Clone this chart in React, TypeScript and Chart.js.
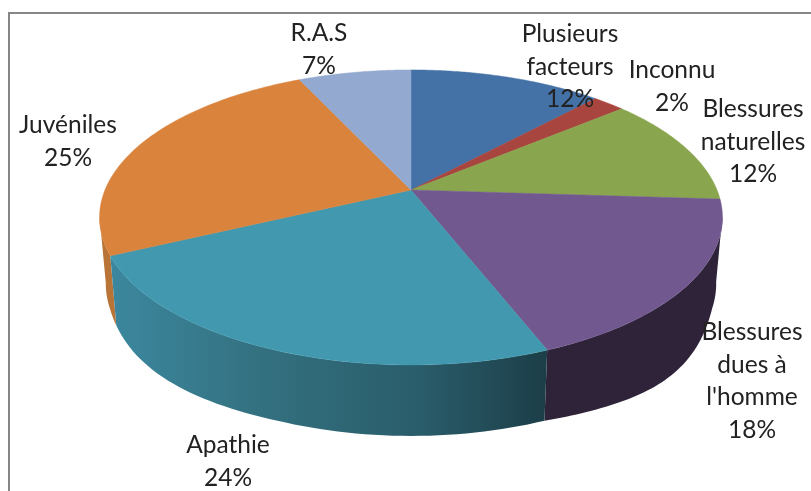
import React, { useEffect, useRef } from "react";
import { Chart, registerables } from "chart.js";

Chart.register(...registerables);

const categories = ["Plusieurs facteurs", "Inconnu", "Blessures naturelles", "Blessures dues à l'homme", "Apathie", "Juvéniles", "R.A.S"];
const shares = [12, 2, 12, 18, 24, 25, 7];
const topColours = ["#4471A6", "#A8453F", "#89A54E", "#71588F", "#4198AF", "#D9833C", "#93A9CF"];
const labelLines = [["Plusieurs", "facteurs"], ["Inconnu"], ["Blessures", "naturelles"], ["Blessures", "dues à", "l'homme"], ["Apathie"], ["Juvéniles"], ["R.A.S"]];

const labelAnchors = [
  { x: 570, y: 42 }, { x: 672, y: 78 }, { x: 753, y: 117 }, { x: 752, y: 340 },
  { x: 228, y: 453 }, { x: 68, y: 133 }, { x: 319, y: 41 },
];
const LINE = 32.5;
const CX = 411, CY = 190, RX = 306, RY = 142.4, K = 0.186;
const BOTTOM_SCALE = 0.98;

function project(theta: number) {
  const u = Math.sin(theta), v = -Math.cos(theta);
  const w = 1 - K * v;
  return { x: CX + (RX * u) / w, y: CY + (RY * v) / w, v, u };
}
function projectBottom(theta: number) {
  const p = project(theta);
  const t = (p.v - 0.34) / 0.59;
  const bulge = t > 0 && t < 1 ? Math.sin(Math.PI * t) * (p.u > 0 ? 12 : 5) : 0;
  return { x: CX + BOTTOM_SCALE * (p.x - CX), y: p.y + 65 + 6 * p.v + bulge };
}

const pie3d = {
  id: "pie3d",
  beforeDraw(chart: any) {
    const ctx = chart.ctx;
    ctx.save();
    ctx.fillStyle = "#ffffff";
    ctx.fillRect(0, 0, chart.width, chart.height);
    ctx.strokeStyle = "#868686";
    ctx.lineWidth = 2;
    ctx.beginPath();
    ctx.moveTo(9, chart.height);
    ctx.lineTo(9, 13);
    ctx.lineTo(chart.width, 13);
    ctx.stroke();
    ctx.restore();
  },
  beforeDatasetsDraw(chart: any) {
    const ctx = chart.ctx;
    const arcs = chart.getDatasetMeta(0).data;
    const wallMin = (100 * Math.PI) / 180, wallMax = (259.5 * Math.PI) / 180;
    const teal = ctx.createLinearGradient(113, 0, 547, 0);
    teal.addColorStop(0, "#3C879E");
    teal.addColorStop(0.35, "#33707F");
    teal.addColorStop(0.7, "#2A5D6B");
    teal.addColorStop(1, "#1C3E48");
    const walls: Record<number, any> = { 5: "#B97538", 3: "#2E2339", 4: teal };
    ctx.save();
    for (const i of [5, 3, 4]) {
      const a0 = Math.max(arcs[i].startAngle + Math.PI / 2, wallMin);
      const a1 = Math.min(arcs[i].endAngle + Math.PI / 2, wallMax);
      if (a1 <= a0) continue;
      ctx.beginPath();
      const n = 60;
      for (let s = 0; s <= n; s++) {
        const p = project(a0 + ((a1 - a0) * s) / n);
        s ? ctx.lineTo(p.x, p.y) : ctx.moveTo(p.x, p.y);
      }
      for (let s = n; s >= 0; s--) {
        const p = projectBottom(a0 + ((a1 - a0) * s) / n);
        ctx.lineTo(p.x, p.y);
      }
      ctx.closePath();
      ctx.fillStyle = walls[i];
      ctx.fill();
    }
    arcs.forEach((arc: any, i: number) => {
      const a0 = arc.startAngle + Math.PI / 2, a1 = arc.endAngle + Math.PI / 2;
      ctx.beginPath();
      ctx.moveTo(CX, CY);
      const n = 80;
      for (let s = 0; s <= n; s++) {
        const p = project(a0 + ((a1 - a0) * s) / n);
        ctx.lineTo(p.x, p.y);
      }
      ctx.closePath();
      ctx.fillStyle = topColours[i];
      ctx.strokeStyle = topColours[i];
      ctx.lineWidth = 0.5;
      ctx.fill();
      ctx.stroke();
    });
    ctx.restore();
    return false;
  },
  afterDraw(chart: any) {
    const ctx = chart.ctx;
    ctx.save();
    ctx.font = '24.5px Lato, "Open Sans", sans-serif';
    ctx.fillStyle = "#222222";
    ctx.textAlign = "center";
    ctx.textBaseline = "alphabetic";
    labelLines.forEach((lines, i) => {
      const a = labelAnchors[i];
      [...lines, `${shares[i]}%`].forEach((t, j) => ctx.fillText(t, a.x, a.y + j * LINE));
    });
    ctx.restore();
  },
};

export default function App() {
  const ref = useRef<HTMLCanvasElement>(null);
  useEffect(() => {
    const chart = new Chart(ref.current!, {
      type: "pie",
      data: { labels: categories, datasets: [{ data: shares, backgroundColor: topColours, borderWidth: 0 }] },
      options: {
        responsive: false,
        animation: false,
        rotation: 0,
        plugins: { legend: { display: false }, tooltip: { enabled: false } },
      },
      plugins: [pie3d],
    } as any);
    return () => chart.destroy();
  }, []);
  return (
    <div style={{ position: "fixed", left: 0, top: 0, width: 811, height: 491 }}>
      <canvas ref={ref} width={811} height={491} style={{ display: "block" }} />
    </div>
  );
}
